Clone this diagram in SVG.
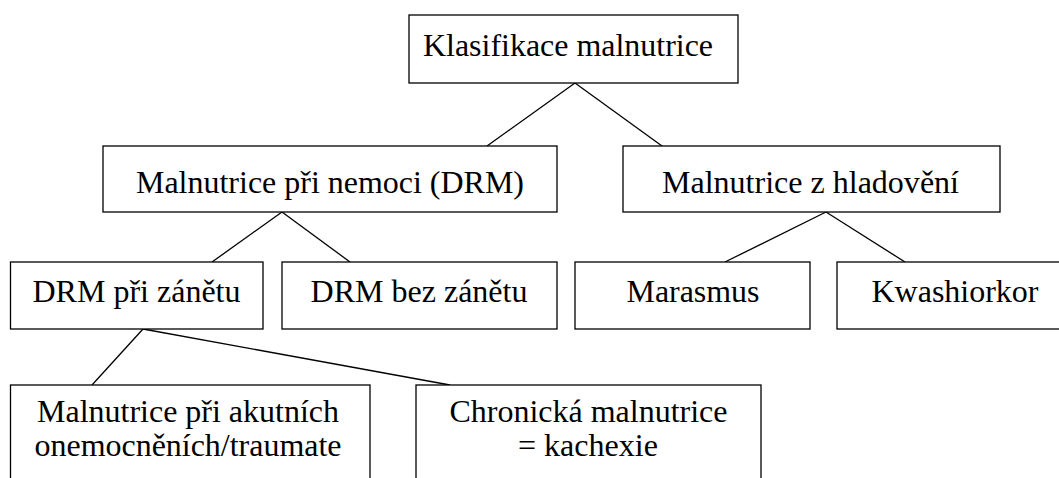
<svg xmlns="http://www.w3.org/2000/svg" width="1059" height="478" viewBox="0 0 1059 478">
<style>
.box{fill:#fff;stroke:#000;stroke-width:1.3}
.t{font-family:'Liberation Serif','Times New Roman','DejaVu Serif',serif;font-size:32px;fill:#000;text-anchor:middle}
.c line{stroke:#000;stroke-width:1.3}
</style>
<rect width="1059" height="478" fill="#fff"/>
<g class="c" id="connectors">
<line x1="575" y1="83" x2="487" y2="146"/>
<line x1="575" y1="83" x2="662" y2="146"/>
<line x1="282" y1="212" x2="212" y2="262"/>
<line x1="282" y1="212" x2="350" y2="262"/>
<line x1="826" y1="212" x2="725" y2="262"/>
<line x1="826" y1="212" x2="905" y2="262"/>
<line x1="143" y1="329" x2="92" y2="385"/>
<line x1="143" y1="329" x2="450" y2="385"/>
</g>
<g id="n-root"><rect class="box" x="409" y="15" width="329" height="68"/><text class="t" x="568" y="56" textLength="290" lengthAdjust="spacingAndGlyphs">Klasifikace malnutrice</text></g>
<g id="n-drm"><rect class="box" x="103" y="146" width="454" height="66"/><text class="t" x="330" y="193" textLength="388" lengthAdjust="spacingAndGlyphs">Malnutrice při nemoci (DRM)</text></g>
<g id="n-hlad"><rect class="box" x="623" y="146" width="377" height="66"/><text class="t" x="810.5" y="193" textLength="297" lengthAdjust="spacingAndGlyphs">Malnutrice z hladovění</text></g>
<g id="n-zanet"><rect class="box" x="10.5" y="262" width="252.5" height="67"/><text class="t" x="136.5" y="302" textLength="208" lengthAdjust="spacingAndGlyphs">DRM při zánětu</text></g>
<g id="n-bez"><rect class="box" x="282" y="262" width="275" height="67"/><text class="t" x="419" y="302" textLength="217" lengthAdjust="spacingAndGlyphs">DRM bez zánětu</text></g>
<g id="n-maras"><rect class="box" x="575" y="262" width="235" height="67"/><text class="t" x="693" y="302" textLength="133" lengthAdjust="spacingAndGlyphs">Marasmus</text></g>
<g id="n-kwash"><rect class="box" x="837" y="262" width="236" height="67"/><text class="t" x="955" y="302" textLength="167" lengthAdjust="spacingAndGlyphs">Kwashiorkor</text></g>
<g id="n-akut"><rect class="box" x="10.5" y="385" width="359.5" height="110"/><text class="t" x="188" y="422" textLength="302" lengthAdjust="spacingAndGlyphs">Malnutrice při akutních</text><text class="t" x="188" y="456" textLength="307" lengthAdjust="spacingAndGlyphs">onemocněních/traumate</text></g>
<g id="n-chron"><rect class="box" x="416" y="385" width="345" height="110"/><text class="t" x="588.5" y="422" textLength="278" lengthAdjust="spacingAndGlyphs">Chronická malnutrice</text><text class="t" x="588" y="456" textLength="140" lengthAdjust="spacingAndGlyphs">= kachexie</text></g>
</svg>
